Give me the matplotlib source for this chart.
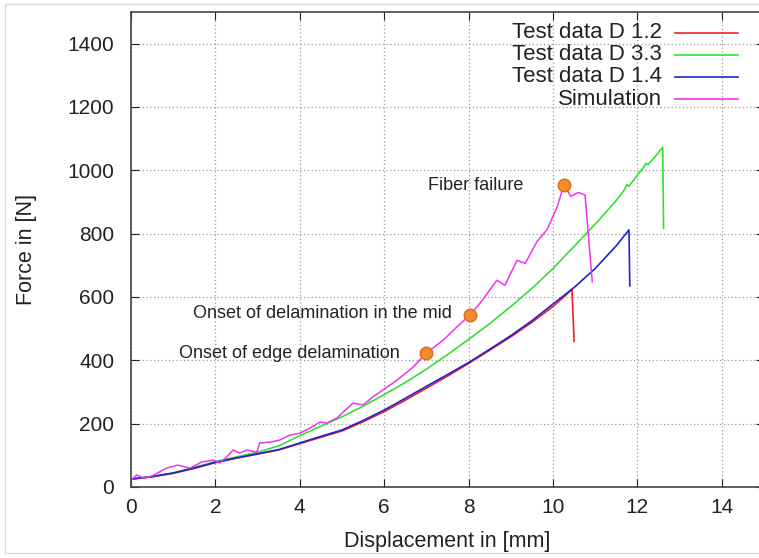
import matplotlib
matplotlib.use('Agg')
import matplotlib.pyplot as plt
from matplotlib.lines import Line2D
from matplotlib.patches import Rectangle

plt.rcParams['font.family'] = ['Liberation Sans', 'DejaVu Sans']

# Test data D 1.2
red_x = [0, 0.5, 1, 1.5, 2, 2.5, 3, 3.5, 4, 4.5, 5, 5.5, 6, 6.5, 7, 7.5, 8, 8.5, 9, 9.5, 10, 10.3, 10.45, 10.5]
red_y = [25, 32, 43, 59, 77, 91, 104, 117, 137, 157, 177, 206, 238, 274, 312, 350, 390, 432, 474, 520, 570, 605, 625, 460]

# Test data D 3.3
green_x = [0, 0.5, 1, 1.5, 2, 2.5, 3, 3.5, 4, 4.5, 5, 5.5, 6, 6.5, 7, 7.5, 8, 8.5, 9, 9.5, 10, 10.5,
           11, 11.5, 11.7, 11.75, 11.8, 12.0, 12.15, 12.2, 12.25, 12.4, 12.6, 12.62]
green_y = [25, 33, 45, 62, 80, 95, 110, 130, 162, 192, 222, 255, 292, 330, 372, 418, 466, 516, 570, 627, 690, 760,
           830, 905, 940, 955, 950, 985, 1010, 1022, 1018, 1040, 1073, 817]

# Test data D 1.4
blue_x = [0, 0.5, 1, 1.5, 2, 2.5, 3, 3.5, 4, 4.5, 5, 5.5, 6, 6.5, 7, 7.5, 8, 8.5, 9, 9.5, 10, 10.5,
          11, 11.5, 11.8, 11.82]
blue_y = [25, 33, 44, 60, 78, 92, 105, 118, 139, 160, 180, 210, 243, 280, 318, 355, 393, 435, 478, 525, 578, 630,
          690, 762, 812, 635]

# Simulation
sim_x = [0, 0.14, 0.3, 0.5, 0.85, 1.1, 1.4, 1.68, 1.95, 2.1, 2.27, 2.42, 2.58, 2.75, 2.98, 3.05, 3.3, 3.52,
         3.77, 4.0, 4.24, 4.48, 4.64, 4.88, 5.26, 5.5, 5.73, 5.9, 6.06, 6.3, 6.68, 7.0, 7.4, 7.72, 8.03, 8.3,
         8.67, 8.86, 9.15, 9.34, 9.62, 9.86, 10.1, 10.26, 10.42, 10.6, 10.76, 10.93]
sim_y = [22, 38, 28, 35, 60, 69, 60, 79, 85, 76, 95, 117, 107, 117, 110, 139, 142, 148,
         164, 170, 186, 205, 202, 218, 265, 259, 284, 300, 315, 337, 378, 423, 464, 505, 543, 585,
         653, 637, 716, 706, 775, 813, 885, 955, 918, 930, 922, 648]

# damage events on the simulation curve
event_x = [6.98, 8.03, 10.27]
event_y = [423, 543, 955]
event_labels = ['Onset of edge delamination', 'Onset of delamination in the mid', 'Fiber failure']
label_x = [6.37, 7.6, 9.29]
label_y = [423, 549, 953]

legend_labels = ['Test data D 1.2', 'Test data D 3.3', 'Test data D 1.4', 'Simulation']
colors = ['#ee2222', '#33e033', '#2222cc', '#ee33ee']

fig = plt.figure(figsize=(7.59, 5.58), dpi=100)
ax = fig.add_axes([131/759, 71/558, 633/759, 475/558])

ax.plot(red_x, red_y, color=colors[0], linewidth=1.2)
ax.plot(green_x, green_y, color=colors[1], linewidth=1.2)
ax.plot(blue_x, blue_y, color=colors[2], linewidth=1.2)
ax.plot(sim_x, sim_y, color=colors[3], linewidth=1.1)
ax.plot(event_x, event_y, 'o', color='#f28c2c', markeredgecolor='#e06a10', markersize=9, linestyle='none')

for t, x, y in zip(event_labels, label_x, label_y):
    ax.text(x, y, t, ha='right', va='center', fontsize=13, color='#222222')

ax.set_xlim(0, 15)
ax.set_ylim(0, 1500)
ax.set_xticks(range(0, 16, 2))
ax.set_yticks(range(0, 1401, 200))

ax.grid(True, linestyle=(0, (1, 2)), color='#9a9a9a', linewidth=0.9)
ax.tick_params(direction='in', top=True, right=True, length=6, labelsize=15, colors='#222222')
ax.tick_params(axis='y', pad=12)
ax.tick_params(axis='x', pad=8)
for s in ax.spines.values():
    s.set_color('#444444')
    s.set_linewidth(1.2)

ax.set_xlabel('Displacement in [mm]', fontsize=15.5, color='#222222', labelpad=10)
ax.set_ylabel('Force in [N]', fontsize=15.5, color='#222222', labelpad=22)

# gnuplot style legend: text right aligned, sample line to the right
for i, (lab, c) in enumerate(zip(legend_labels, colors)):
    yy = 1 - (33 + 22 * i) / 558
    fig.text(662/759, yy, lab, ha='right', va='center', fontsize=16, color='#222222')
    fig.add_artist(Line2D([675/759, 738/759], [yy, yy], color=c, linewidth=1.2, transform=fig.transFigure))

# light screenshot border
fig.add_artist(Rectangle((5/759, 5/558), 800/759, 549/558, fill=False, edgecolor='#d8d8d8',
                         linewidth=1, transform=fig.transFigure))

plt.savefig('out.png', dpi=100)
